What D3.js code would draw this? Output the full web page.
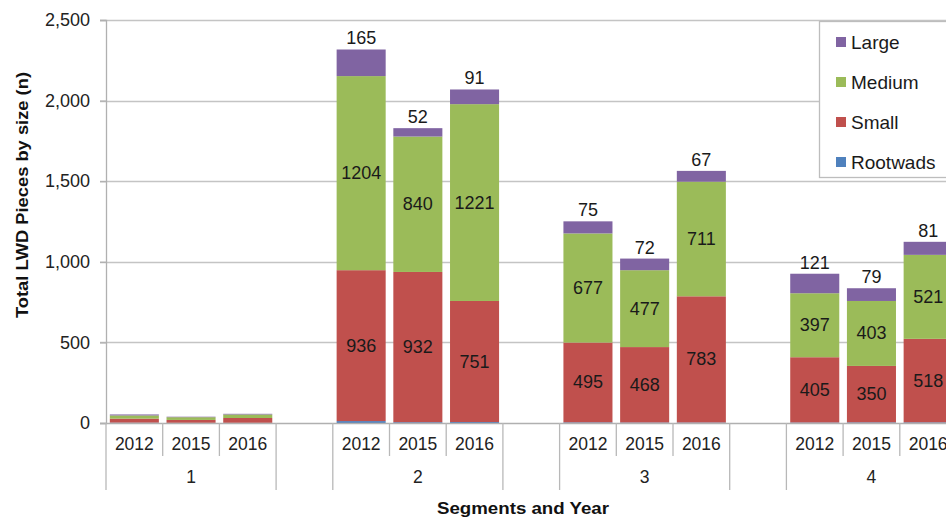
<!DOCTYPE html>
<html>
<head>
<meta charset="utf-8">
<script src="https://cdn.jsdelivr.net/npm/d3@7"></script>
<style>
  html, body { margin: 0; padding: 0; background: #fff; overflow: hidden; }
  svg { display: block; font-family: "Liberation Sans", Arial, sans-serif; }
</style>
</head>
<body>
<svg id="chart" width="946" height="523"></svg>
<script>
// ---- data ----
const segments = ["1", "2", "3", "4"];
const years = ["2012", "2015", "2016"];
const seriesNames = ["Rootwads", "Small", "Medium", "Large"];
const seriesColors = ["#4F81BD", "#C0504D", "#9BBB59", "#8064A2"];
const rootwads = [2, 1, 1, 12, 5, 6, 4, 3, 3, 3, 4, 4];
const small    = [25, 18, 30, 936, 932, 751, 495, 468, 783, 405, 350, 518];
const medium   = [20, 17, 22, 1204, 840, 1221, 677, 477, 711, 397, 403, 521];
const large    = [6, 3, 4, 165, 52, 91, 75, 72, 67, 121, 79, 81];
const labelSegments = ["2", "3", "4"];
const yTicks = [0, 500, 1000, 1500, 2000, 2500];
const yTitle = "Total LWD Pieces by size (n)";
const xTitle = "Segments and Year";

// ---- build rows ----
const rows = [];
segments.forEach((s, si) => {
  years.forEach((y, yi) => {
    const i = si * years.length + yi;
    rows.push({ key: s + "-" + y, seg: s, year: y,
      Rootwads: rootwads[i], Small: small[i], Medium: medium[i], Large: large[i] });
  });
});
// slot list: each segment's years followed by one blank slot
const slots = [];
segments.forEach(s => { years.forEach(y => slots.push(s + "-" + y)); slots.push(s + "-gap"); });

const svg = d3.select("#chart");
const x0 = 106, step = 56.7;
const x = d3.scaleBand().domain(slots).range([x0, x0 + step * slots.length])
  .paddingInner(0.135).paddingOuter(0.0675);
const y = d3.scaleLinear().domain([0, 2500]).range([423, 20]);

// gridlines
svg.append("g").selectAll("line").data(yTicks.filter(d => d > 0)).join("line")
  .attr("x1", 100).attr("x2", 946)
  .attr("y1", d => Math.round(y(d)) + 0.5).attr("y2", d => Math.round(y(d)) + 0.5)
  .attr("stroke", "#c4c4c4").attr("stroke-width", 1.3);

// y axis
const yAxis = d3.axisLeft(y).tickValues(yTicks).tickSize(6).tickPadding(10)
  .tickFormat(d3.format(","));
const gy = svg.append("g").attr("transform", `translate(${x0},0)`).call(yAxis);
gy.select(".domain").attr("stroke", "#b0b0b0").attr("stroke-width", 1.3);
gy.selectAll(".tick line").attr("stroke", "#b0b0b0").attr("stroke-width", 1.3);
gy.selectAll(".tick text").attr("font-size", 18).attr("fill", "#222")
  .attr("font-family", "'Liberation Sans', Arial, sans-serif");

// stacked bars
const stack = d3.stack().keys(seriesNames);
const stacked = stack(rows);
const gBars = svg.append("g");
stacked.forEach((layer, li) => {
  gBars.append("g").attr("fill", seriesColors[li])
    .selectAll("rect").data(layer).join("rect")
    .attr("x", d => x(d.data.key))
    .attr("width", x.bandwidth())
    .attr("y", d => y(d[1]))
    .attr("height", d => Math.max(0, y(d[0]) - y(d[1])));
});

// x axis baseline
svg.append("line").attr("x1", 100).attr("x2", 946)
  .attr("y1", 423.5).attr("y2", 423.5).attr("stroke", "#b0b0b0").attr("stroke-width", 1.3);

// category tick lines
const boundaries = d3.range(slots.length + 1);
svg.append("g").selectAll("line").data(boundaries).join("line")
  .attr("x1", i => x0 + step * i).attr("x2", i => x0 + step * i)
  .attr("y1", 423)
  .attr("y2", i => (i % 4 === 0 || i % 4 === 3) ? 490 : 456)
  .attr("stroke", "#b8b8b8").attr("stroke-width", 1.3);

// year labels
svg.append("g").selectAll("text").data(rows).join("text")
  .attr("x", d => x(d.key) + x.bandwidth() / 2)
  .attr("y", 444).attr("text-anchor", "middle").attr("dominant-baseline", "central")
  .attr("font-size", 17.5).attr("fill", "#222").text(d => d.year);

// segment labels
svg.append("g").selectAll("text").data(segments).join("text")
  .attr("x", s => x(s + "-2015") + x.bandwidth() / 2)
  .attr("y", 477).attr("text-anchor", "middle").attr("dominant-baseline", "central")
  .attr("font-size", 17.5).attr("fill", "#222").text(s => s);

// data labels
const gLab = svg.append("g").attr("font-size", 18).attr("fill", "#1a1a1a").attr("text-anchor", "middle");
stacked.forEach((layer, li) => {
  const name = seriesNames[li];
  if (name === "Rootwads") return;
  layer.filter(d => labelSegments.includes(d.data.seg)).forEach(d => {
    const cx = x(d.data.key) + x.bandwidth() / 2;
    if (name === "Large") {
      gLab.append("text").attr("x", cx).attr("y", y(d[1]) - 5).text(d.data[name]);
    } else {
      gLab.append("text").attr("x", cx).attr("y", (y(d[0]) + y(d[1])) / 2)
        .attr("dominant-baseline", "central").text(d.data[name]);
    }
  });
});

// legend
const lg = svg.append("g");
lg.append("rect").attr("x", 819.5).attr("y", 21.5).attr("width", 200).attr("height", 156)
  .attr("fill", "#fff").attr("stroke", "#bdbdbd").attr("stroke-width", 1.3);
const legendOrder = ["Large", "Medium", "Small", "Rootwads"];
legendOrder.forEach((n, i) => {
  const cy = 42 + i * 40;
  lg.append("rect").attr("x", 836).attr("y", cy - 5).attr("width", 10).attr("height", 10)
    .attr("fill", seriesColors[seriesNames.indexOf(n)]);
  lg.append("text").attr("x", 851).attr("y", cy).attr("dominant-baseline", "central")
    .attr("font-size", 19).attr("fill", "#1a1a1a").text(n);
});

// axis titles
svg.append("text").attr("transform", "translate(22,195) rotate(-90)")
  .attr("text-anchor", "middle").attr("dominant-baseline", "central")
  .attr("font-size", 16.5).attr("font-weight", "bold").attr("fill", "#111")
  .attr("textLength", 246).attr("lengthAdjust", "spacingAndGlyphs").text(yTitle);
svg.append("text").attr("x", 523).attr("y", 514).attr("text-anchor", "middle")
  .attr("font-size", 16.5).attr("font-weight", "bold").attr("fill", "#111")
  .attr("textLength", 172).attr("lengthAdjust", "spacingAndGlyphs").text(xTitle);
</script>
</body>
</html>
